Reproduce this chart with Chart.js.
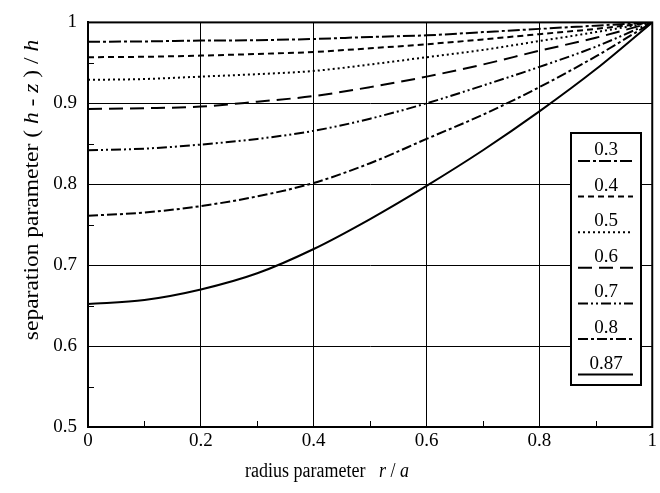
<!DOCTYPE html>
<html><head><meta charset="utf-8">
<script src="https://cdn.jsdelivr.net/npm/chart.js@4/dist/chart.umd.min.js"></script>
<style>html,body{margin:0;padding:0;background:#fff}#wrap{width:660px;height:493px;position:relative}</style>
</head><body><div id="wrap"><canvas id="c"></canvas></div>
<script>
// radius parameter r/a
const radius = [0, 0.1, 0.2, 0.3, 0.4, 0.5, 0.6, 0.7, 0.8, 0.9, 1.0];
// separation parameter (h - z)/h for each curve
const s030 = [0.976, 0.9765, 0.9775, 0.978, 0.9795, 0.982, 0.984, 0.988, 0.992, 0.996, 1.0];
const s040 = [0.957, 0.9575, 0.959, 0.961, 0.9635, 0.968, 0.973, 0.979, 0.9855, 0.992, 1.0];
const s050 = [0.929, 0.930, 0.933, 0.936, 0.940, 0.948, 0.957, 0.966, 0.977, 0.988, 1.0];
const s060 = [0.893, 0.894, 0.896, 0.902, 0.909, 0.920, 0.933, 0.948, 0.965, 0.981, 1.0];
const s070 = [0.842, 0.844, 0.849, 0.856, 0.866, 0.881, 0.900, 0.922, 0.945, 0.970, 1.0];
const s080 = [0.761, 0.765, 0.773, 0.785, 0.8016, 0.826, 0.856, 0.886, 0.920, 0.958, 1.0];
const s087 = [0.652, 0.657, 0.670, 0.690, 0.720, 0.757, 0.798, 0.842, 0.890, 0.942, 1.0];
const seriesLabels = ['0.3', '0.4', '0.5', '0.6', '0.7', '0.8', '0.87'];
const seriesValues = [s030, s040, s050, s060, s070, s080, s087];
const xTicks = [0, 0.2, 0.4, 0.6, 0.8, 1];
const yTicks = [0.5, 0.6, 0.7, 0.8, 0.9, 1];
const xMinor = [0.1, 0.3, 0.5, 0.7, 0.9];
const yMinor = [0.55, 0.65, 0.75, 0.85, 0.95];

const dashes = [
  [12, 3, 3, 3],
  [6, 4],
  [2, 3],
  [14, 7],
  [10, 3, 2, 3, 2, 3],
  [10, 3, 3, 3],
  []
];

const SERIF = '"Liberation Serif", "DejaVu Serif", serif';

const datasets = seriesValues.map((vals, i) => ({
  label: seriesLabels[i],
  data: radius.map((r, j) => ({x: r, y: vals[j]})),
  borderColor: '#000',
  borderWidth: 2,
  borderDash: dashes[i],
  pointRadius: 0,
  fill: false,
  cubicInterpolationMode: 'monotone'
}));

function fmt(v) { return String(+(+v).toFixed(2)); }

const extras = {
  id: 'extras',
  afterDraw(chart) {
    const ctx = chart.ctx;
    const a = chart.chartArea;
    const xs = chart.scales.x, ys = chart.scales.y;
    ctx.save();
    // frame
    ctx.strokeStyle = '#000';
    ctx.lineWidth = 2;
    ctx.setLineDash([]);
    ctx.strokeRect(a.left, a.top, a.right - a.left, a.bottom - a.top);
    // minor ticks
    ctx.lineWidth = 1;
    ctx.beginPath();
    xMinor.forEach(v => {
      const px = Math.round(xs.getPixelForValue(v)) + 0.5;
      ctx.moveTo(px, a.bottom); ctx.lineTo(px, a.bottom - 6);
    });
    yMinor.forEach(v => {
      const py = Math.round(ys.getPixelForValue(v)) + 0.5;
      ctx.moveTo(a.left, py); ctx.lineTo(a.left + 6, py);
    });
    ctx.stroke();

    // legend box
    const bx = 571, by = 133, bw = 70, bh = 252;
    ctx.fillStyle = '#fff';
    ctx.fillRect(bx, by, bw, bh);
    ctx.lineWidth = 2;
    ctx.strokeRect(bx, by, bw, bh);
    ctx.fillStyle = '#000';
    ctx.font = '19px ' + SERIF;
    ctx.textAlign = 'center';
    ctx.textBaseline = 'alphabetic';
    const step = 35.6;
    chart.data.datasets.forEach((ds, i) => {
      const ty = by + 22 + i * step;
      ctx.fillText(ds.label, bx + bw / 2, ty);
      ctx.setLineDash(ds.borderDash || []);
      ctx.lineWidth = 2;
      ctx.beginPath();
      ctx.moveTo(bx + 7, ty + 6);
      ctx.lineTo(bx + bw - 8, ty + 6);
      ctx.stroke();
    });
    ctx.setLineDash([]);

    // axis titles with mixed italics
    function drawMixed(parts, cx, cy, size) {
      let total = 0;
      parts.forEach(p => { ctx.font = (p[1] ? 'italic ' : '') + size + 'px ' + SERIF; p.w = ctx.measureText(p[0]).width; total += p.w; });
      let x = cx - total / 2;
      ctx.textAlign = 'left';
      ctx.textBaseline = 'middle';
      parts.forEach(p => { ctx.font = (p[1] ? 'italic ' : '') + size + 'px ' + SERIF; ctx.fillText(p[0], x, cy); x += p.w; });
    }
    ctx.save();
    ctx.translate(327, 471);
    ctx.scale(1, 1.2);
    drawMixed([['radius parameter   ', false], ['r', true], [' / ', false], ['a', true]], 0, 0, 18);
    ctx.restore();
    ctx.save();
    ctx.translate(32, 190);
    ctx.rotate(-Math.PI / 2);
    ctx.scale(1.12, 1);
    drawMixed([['separation parameter ( ', false], ['h', true], [' - ', false], ['z', true], [' ) / ', false], ['h', true]], 0, 0, 21);
    ctx.restore();
    ctx.restore();
  }
};

new Chart(document.getElementById('c'), {
  type: 'line',
  data: { datasets },
  options: {
    responsive: true,
    maintainAspectRatio: false,
    devicePixelRatio: 1,
    animation: false,
    layout: { padding: { top: 12, right: 7, left: 0, bottom: 0 } },
    plugins: { legend: { display: false }, tooltip: { enabled: false } },
    scales: {
      x: {
        type: 'linear', min: 0, max: 1,
        afterBuildTicks(s) { s.ticks = xTicks.map(v => ({value: v})); },
        afterFit(s) { s.height = 66; },
        ticks: { color: '#000', font: { family: SERIF, size: 19 }, padding: 3, maxRotation: 0, callback: v => fmt(v) },
        grid: { color: '#000', lineWidth: 1, drawTicks: false },
        border: { color: '#000', width: 2 }
      },
      y: {
        type: 'linear', min: 0.5, max: 1,
        afterBuildTicks(s) { s.ticks = yTicks.map(v => ({value: v})); },
        afterFit(s) { s.width = 88; },
        ticks: { color: '#000', font: { family: SERIF, size: 19 }, padding: 11, callback: v => fmt(v) },
        grid: { color: '#000', lineWidth: 1, drawTicks: false },
        border: { color: '#000', width: 2 }
      }
    }
  },
  plugins: [extras]
});
</script>
</body></html>
